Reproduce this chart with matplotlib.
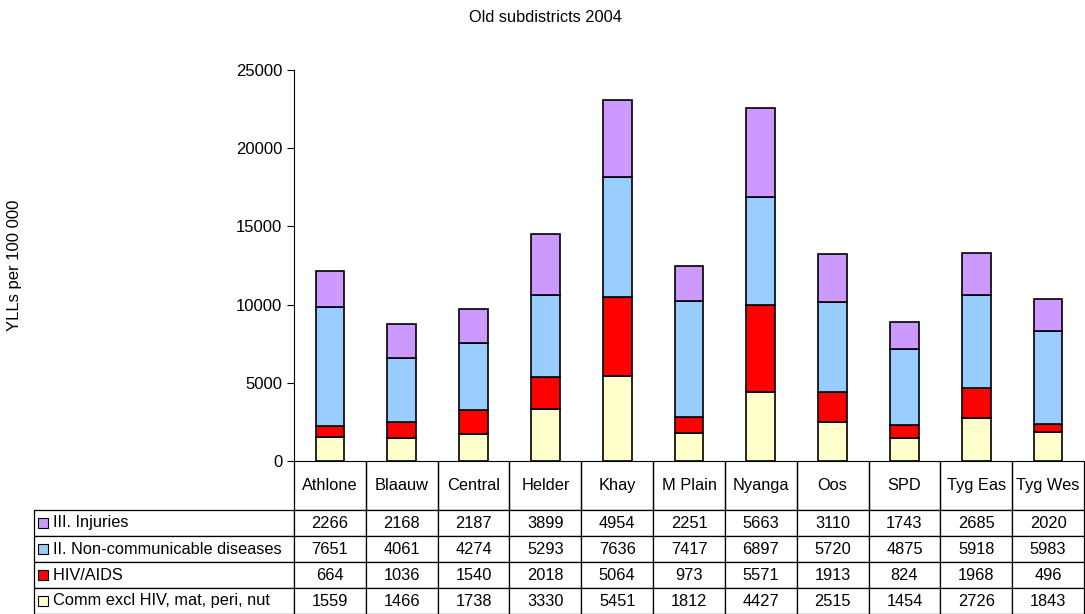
import matplotlib
matplotlib.use("Agg")
import matplotlib.pyplot as plt
from matplotlib.patches import Rectangle
from matplotlib.table import Table
import numpy as np

plt.rcParams['font.family'] = ['Liberation Sans', 'DejaVu Sans']

# data
districts = ["Athlone", "Blaauw", "Central", "Helder", "Khay", "M Plain",
             "Nyanga", "Oos", "SPD", "Tyg Eas", "Tyg Wes"]
comm = [1559, 1466, 1738, 3330, 5451, 1812, 4427, 2515, 1454, 2726, 1843]
hiv = [664, 1036, 1540, 2018, 5064, 973, 5571, 1913, 824, 1968, 496]
ncd = [7651, 4061, 4274, 5293, 7636, 7417, 6897, 5720, 4875, 5918, 5983]
inj = [2266, 2168, 2187, 3899, 4954, 2251, 5663, 3110, 1743, 2685, 2020]

series_names = ["Comm excl HIV, mat, peri, nut", "HIV/AIDS",
                "II. Non-communicable diseases", "III. Injuries"]
series_vals = [comm, hiv, ncd, inj]
series_cols = ["#FFFFCC", "#FF0000", "#99CCFF", "#CC99FF"]

W, H = 1085, 614
ax_l, ax_r, ax_t, ax_b = 294, 1084, 70, 461
aw, ah = ax_r - ax_l, ax_b - ax_t
fs = 11.8

fig = plt.figure(figsize=(W/100, H/100), dpi=100)
ax = fig.add_axes([ax_l/W, 1-ax_b/H, aw/W, ah/H])

x = np.arange(len(districts))
bottom = np.zeros(len(districts))
for vals, col in zip(series_vals, series_cols):
    ax.bar(x, vals, 0.4, bottom=bottom, color=col, edgecolor="black", linewidth=1.2)
    bottom += np.array(vals)

ax.set_xlim(-0.5, len(districts) - 0.5)
ax.set_ylim(0, 25000)
ax.set_yticks(range(0, 25001, 5000))
ax.tick_params(axis="y", labelsize=12, length=5, direction="out")
ax.set_xticks([])
for s in ["top", "right"]:
    ax.spines[s].set_visible(False)

# data table: column 0 holds the series names, row 0 the district names
lab_w = 260 / aw
col_w = 1 / len(districts)
hdr_h = 49 / ah
row_h = 26 / ah
tb_h = hdr_h + 4 * row_h
rows = list(range(len(series_names)))[::-1]

tbl = Table(ax, bbox=[-lab_w, -tb_h, 1 + lab_w, tb_h])
hc = tbl.add_cell(0, 0, lab_w, hdr_h, text="")
hc.visible_edges = "open"
for j, d in enumerate(districts):
    c = tbl.add_cell(0, j + 1, col_w, hdr_h, text=d, loc="center")
    c.visible_edges = "BLR"
for k, i in enumerate(rows):
    c = tbl.add_cell(k + 1, 0, lab_w, row_h, text="    " + series_names[i], loc="left")
    c.PAD = 0.005
    for j in range(len(districts)):
        tbl.add_cell(k + 1, j + 1, col_w, row_h, text=str(series_vals[i][j]), loc="center")
tbl.auto_set_font_size(False)
tbl.set_fontsize(fs)
for cell in tbl.get_celld().values():
    cell.set_linewidth(0.9)
ax.add_table(tbl)

# legend keys in the series name cells
for k, i in enumerate(rows):
    yc = -tb_h + (3 - k + 0.5) * row_h
    ax.add_patch(Rectangle((-lab_w + 4/aw, yc - 5/ah), 10/aw, 10/ah,
                           transform=ax.transAxes, clip_on=False,
                           facecolor=series_cols[i], edgecolor="black", linewidth=0.8))

fig.text(545/W, 1-17/H, "Old subdistricts 2004", ha="center", va="center", fontsize=fs)
fig.text(15/W, 1-265/H, "YLLs per 100 000", ha="center", va="center",
         rotation=90, fontsize=12)

fig.savefig("out.png", dpi=100)
